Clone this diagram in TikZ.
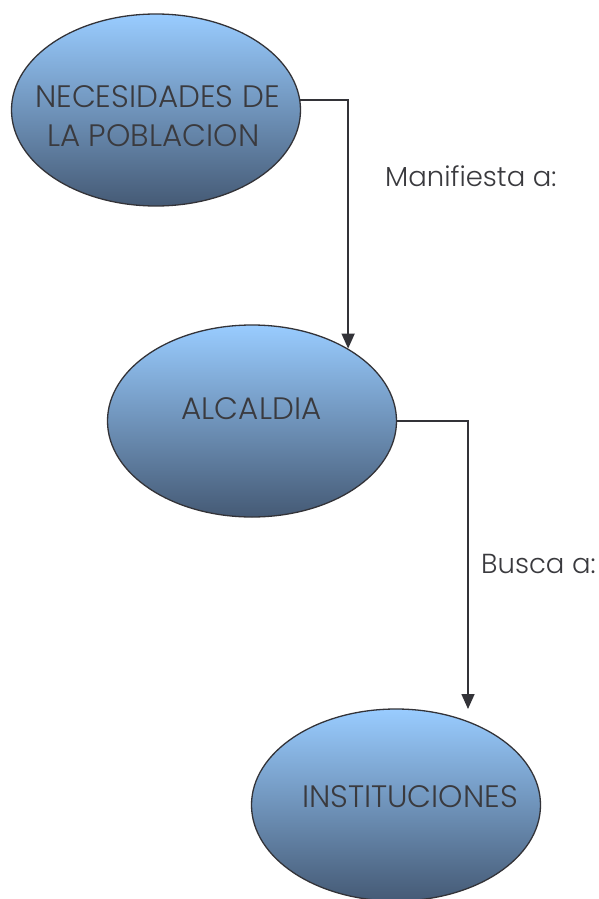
\documentclass[tikz,border=0pt]{standalone}
\usepackage{fontspec}
\setmainfont{Poppins Light}
\usetikzlibrary{shapes.geometric,arrows.meta}
\definecolor{topblue}{RGB}{153,204,255}
\definecolor{botblue}{RGB}{69,90,117}
\definecolor{ink}{RGB}{51,51,56}
\definecolor{txtgray}{RGB}{58,58,62}
\tikzset{
  blob/.style={ellipse,draw=ink,line width=1.3pt,top color=topblue,bottom color=botblue,
    minimum width=289pt,minimum height=192pt,inner sep=0pt},
  txt/.style={text=txtgray,font=\fontsize{31}{39}\selectfont,inner sep=0pt},
  lbl/.style={text=txtgray,font=\fontsize{27.5}{32}\selectfont,anchor=base west,inner sep=0pt},
  conn/.style={draw=ink,line width=1.6pt,-{Triangle[length=15pt,width=13pt]}}
}
\begin{document}
\begin{tikzpicture}[x=1pt,y=-1pt]
\useasboundingbox (0,0) rectangle (599,899);
\node[blob] (n1) at (156,110) {};
\node[blob] (n2) at (252,421) {};
\node[blob] (n3) at (396,805) {};
\node[txt,align=left,anchor=west] (t1) at (35,116) {NECESIDADES DE\\\hspace*{12pt}LA POBLACION};
\node[txt] (t2) at (251.5,409) {ALCALDIA};
\node[txt] (t3) at (410,797) {INSTITUCIONES};
\node[lbl] (l1) at (385,186) {Manifiesta a:};
\node[lbl] (l2) at (481,573) {Busca a:};
\coordinate (e3) at (468,709);
\draw[conn] (n1.4) -| (n2.37);
\draw[conn] (n2.east) -| (e3);
\end{tikzpicture}
\end{document}
